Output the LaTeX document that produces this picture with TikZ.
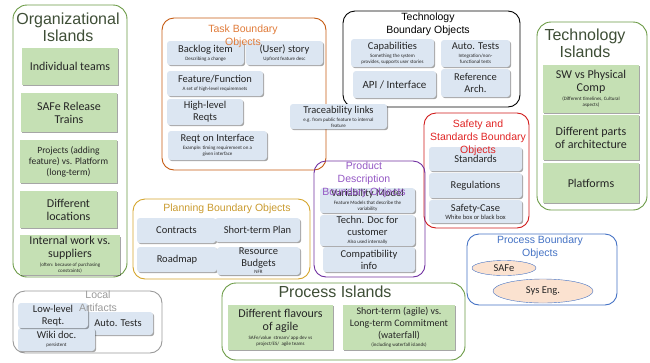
\documentclass[tikz,border=0pt]{standalone}
\usepackage{fontspec}
\setmainfont{Carlito}
\newfontfamily\arialfont{Liberation Sans}
\usetikzlibrary{shapes.geometric,shadows}
\definecolor{grfill}{HTML}{C5E0B4}
\definecolor{blfill}{HTML}{DCE6F2}
\definecolor{grline}{HTML}{6A9A44}
\definecolor{isltxt}{HTML}{3E4E36}
\definecolor{orline}{HTML}{C55A11}
\definecolor{ortxt}{HTML}{E07B39}
\definecolor{goldline}{HTML}{D4A52C}
\definecolor{goldtxt}{HTML}{C99A2E}
\definecolor{purline}{HTML}{7030A0}
\definecolor{purtxt}{HTML}{9457C4}
\definecolor{redline}{HTML}{D01A1A}
\definecolor{redtxt}{HTML}{E02424}
\definecolor{blueline}{HTML}{4472C4}
\definecolor{peach}{HTML}{FBE2D0}
\definecolor{grayline}{HTML}{9A9A9A}
\definecolor{txt}{HTML}{262626}
\newcommand{\sm}[1]{{\fontsize{5}{6}\selectfont #1}}
\begin{document}
\begin{tikzpicture}[x=1pt,y=-1pt,
    island/.style={draw=grline,line width=0.9pt,rounded corners=14pt},
    bnd/.style={draw=#1,line width=0.9pt,rounded corners=12pt},
    ttl/.style={font=\arialfont\fontsize{16}{17}\selectfont,text=isltxt,align=center,inner sep=0pt},
    bttl/.style={font=\arialfont\fontsize{10.5}{13}\selectfont,text=#1,align=center,inner sep=0pt},
    gbox/.style={fill=grfill,align=center,inner sep=1pt,text=txt,
      drop shadow={shadow xshift=1.2pt,shadow yshift=-1.2pt,opacity=0.35,fill=black},
      font=\fontsize{12}{13}\selectfont},
    bbox/.style={fill=blfill,rounded corners=3pt,align=center,inner sep=1pt,text=txt,
      drop shadow={shadow xshift=1.2pt,shadow yshift=-1.2pt,opacity=0.35,fill=black},
      font=\fontsize{10.5}{12}\selectfont},
    pbox/.style={ellipse,draw=blueline,fill=peach,inner sep=0pt,text=txt,
      font=\fontsize{10.5}{12}\selectfont},
    sz/.style 2 args={minimum width=#1,minimum height=#2}]
      \useasboundingbox (0,0) rectangle (650,362);
      % containers
      \node[island,sz={114pt}{272pt}] (orgisl) at (70,141) {};
      \node[island,sz={110pt}{188pt}] (techisl) at (592,116) {};
      \node[island,sz={243pt}{77pt}] (procisl) at (343.5,321.5) {};
      \node[bnd=grayline,sz={149pt}{62pt}] (local) at (87.5,322) {};
      \node[bnd=orline,sz={164pt}{152pt}] (task) at (244,94) {};
      \node[bnd=black,sz={177pt}{96pt}] (techbnd) at (431.5,59) {};
      \node[bnd=redline,sz={105pt}{115pt}] (safety) at (476.5,170.5) {};
      \node[bnd=goldline,sz={177pt}{80pt}] (plan) at (221.5,239) {};
      \node[bnd=purline,sz={111pt}{116pt}] (product) at (369.5,219) {};
      \node[bnd=blueline,sz={150pt}{71pt}] (procbnd) at (542,269.5) {};
      % organizational islands
      \node[gbox,sz={96pt}{37pt}] (org1) at (70,66.5) {Individual teams};
      \node[gbox,sz={96pt}{39pt}] (org2) at (69,112.5) {SAFe Release\\Trains};
      \node[gbox,sz={97pt}{43pt},font=\fontsize{9.5}{11}\selectfont] (org3) at (68.5,161.5)
        {Projects (adding\\feature) vs. Platform\\(long-term)};
      \node[gbox,sz={97pt}{37pt}] (org4) at (68.5,209.5) {Different\\locations};
      \node[gbox,sz={100pt}{38pt}] (org5) at (70,255)
        {Internal work vs.\\suppliers\\[-4pt]\sm{(often: because of purchasing}\\[-7pt]\sm{constraints)}};
      % technology islands
      \node[gbox,sz={96pt}{48pt}] (ti1) at (591,89)
        {SW vs Physical\\Comp\\[-4pt]\sm{(Different timelines, Cultural}\\[-7pt]\sm{aspects)}};
      \node[gbox,sz={96pt}{45pt}] (ti2) at (591,137.5) {Different parts\\of architecture};
      \node[gbox,sz={96pt}{40pt}] (ti3) at (591,183) {Platforms};
      % process islands
      \node[gbox,sz={105pt}{45pt}] (pi1) at (280.5,327.5)
        {Different flavours\\of agile\\[-4pt]\sm{SAFe/value\ \ stream/ app dev vs}\\[-7pt]\sm{project/ES/\ \ agile teams}};
      \node[gbox,sz={112pt}{45pt},font=\fontsize{10}{12}\selectfont] (pi2) at (399,327.5)
        {Short-term (agile) vs.\\Long-term Commitment\\(waterfall)\\[-4pt]\sm{(including waterfall islands)}};
      % local artifacts
      \node[bbox,sz={70pt}{23pt}] (loc3) at (118,323.5) {Auto. Tests};
      \node[bbox,sz={77pt}{23pt}] (loc2) at (56.5,339.5) {Wiki doc.\\[-4pt]\sm{persistent}};
      \node[bbox,sz={70pt}{25pt}] (loc1) at (53,315.5) {Low-level\\Reqt.};
      % task boundary objects
      \node[bbox,sz={77pt}{24pt}] (tb1) at (205.5,53) {Backlog item\\[-4pt]\sm{Describing a change}};
      \node[bbox,sz={77pt}{24pt}] (tb2) at (284.5,53) {(User) story\\[-4pt]\sm{Upfront feature desc}};
      \node[bbox,sz={96pt}{25pt}] (tb3) at (215,83.5) {Feature/Function\\[-4pt]\sm{A set of high-level requiremnets}};
      \node[bbox,sz={76pt}{26pt}] (tb4) at (205,112) {High-level\\Reqts};
      \node[bbox,sz={99pt}{29pt}] (tb5) at (217.5,145.5)
        {Reqt on Interface\\[-4pt]\sm{Example:\ timing requirement on a}\\[-6pt]\sm{given interface}};
      \node[bbox,sz={97pt}{25pt}] (trace) at (338.5,116.5)
        {Traceability links\\[-4pt]\sm{e.g. from public feature to internal}\\[-6pt]\sm{feature}};
      % technology boundary objects
      \node[bbox,sz={83pt}{28pt}] (tc1) at (392.5,53)
        {Capabilities\\[-4pt]\sm{Something the system}\\[-6pt]\sm{provides, supports user stories}};
      \node[bbox,sz={83pt}{27pt},font=\fontsize{11}{12}\selectfont] (tc2) at (394.5,84.5) {API / Interface};
      \node[bbox,sz={69pt}{27pt}] (tc3) at (475.5,53.5)
        {Auto. Tests\\[-4pt]\sm{Integration/non-}\\[-6pt]\sm{functional tests}};
      \node[bbox,sz={69pt}{28pt}] (tc4) at (475.5,83) {Reference\\Arch.};
      % safety and standards
      \node[bbox,sz={93pt}{24pt}] (sf1) at (475.5,159) {Standards};
      \node[bbox,sz={93pt}{25pt}] (sf2) at (475.5,185.5) {Regulations};
      \node[bbox,sz={93pt}{23pt}] (sf3) at (475.5,211.5)
        {Safety-Case\\[-4pt]{\fontsize{6.5}{7}\selectfont White box or black box}};
      % planning
      \node[bbox,sz={79pt}{25pt}] (pl1) at (176.5,230.5) {Contracts};
      \node[bbox,sz={85pt}{24pt}] (pl2) at (257.5,230) {Short-term Plan};
      \node[bbox,sz={80pt}{25pt}] (pl3) at (177,259.5) {Roadmap};
      \node[bbox,sz={83pt}{25pt}] (pl4) at (258.5,261) {Resource\\Budgets\\[-5pt]\sm{NFR}};
      % product description
      \node[bbox,sz={95pt}{25pt}] (pd1) at (367.5,200.5)
        {Variability Model\\[-4pt]\sm{Feature Models that describe the}\\[-6pt]\sm{variability}};
      \node[bbox,sz={95pt}{31pt}] (pd2) at (367.5,230.5) {Techn. Doc for\\customer\\[-4pt]\sm{Also used internally}};
      \node[bbox,sz={92pt}{25pt}] (pd3) at (369,259.5) {Compatibility\\info};
      % process boundary objects
      \node[pbox,sz={64pt}{15pt}] (pb1) at (504,268) {SAFe};
      \node[pbox,sz={100pt}{24pt}] (pb2) at (543,291) {Sys Eng.};
      % titles
      \node[ttl] (orgttl) at (68,27.5) {Organizational\\Islands};
      \node[ttl] (techttl) at (585,43) {Technology\\Islands};
      \node[ttl] (procttl) at (335,291.5) {Process Islands};
      \node[bttl=grayline] (localttl) at (98,301.5) {Local\\Artifacts};
      \node[bttl=ortxt] (taskttl) at (243,36.5) {Task Boundary\\Objects};
      \node[bttl=black] (techbttl) at (428,24.5) {Technology\\Boundary Objects};
      \node[bttl=redtxt] (safettl) at (478,138) {Safety and\\Standards Boundary\\Objects};
      \node[bttl=goldtxt] (planttl) at (227,209) {Planning Boundary Objects};
      \node[bttl=purtxt] (prodttl) at (364,180) {Product\\Description\\Boundary Objects};
      \node[bttl=blueline] (procbttl) at (540,247) {Process Boundary\\Objects};
    \end{tikzpicture}
\end{document}
